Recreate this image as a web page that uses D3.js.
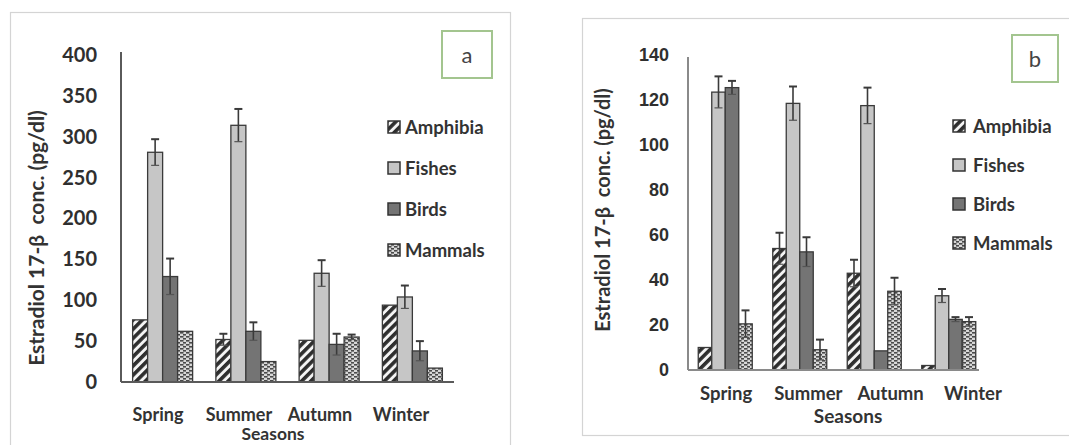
<!DOCTYPE html>
<html>
<head>
<meta charset="utf-8">
<script src="https://cdn.jsdelivr.net/npm/d3@7/dist/d3.min.js"></script>
<style>
  body { margin: 0; background: #fff; }
  svg { display: block; }
</style>
</head>
<body>
<svg id="chart" width="1069" height="445"></svg>
<script>
// Seasons and animal groups
const seasons = ["Spring", "Summer", "Autumn", "Winter"];
const groups = ["Amphibia", "Fishes", "Birds", "Mammals"];

// Panel a: estradiol 17-β (pg/dl)
const amphibiaA = [76, 52, 51, 94];
const fishesA   = [281, 314, 133, 104];
const birdsA    = [129, 62, 46, 38];
const mammalsA  = [62, 25, 55, 17];
const amphibiaErrA = [0, 7, 0, 0];
const fishesErrA   = [16, 20, 16, 14];
const birdsErrA    = [22, 11, 13, 12];
const mammalsErrA  = [0, 0, 3, 0];
const ticksA = [0, 50, 100, 150, 200, 250, 300, 350, 400];

// Panel b: estradiol 17-β (pg/dl)
const amphibiaB = [10, 54, 43, 2];
const fishesB   = [123.5, 118.5, 117.5, 33];
const birdsB    = [125.5, 52.5, 8.5, 22.5];
const mammalsB  = [20.5, 9, 35, 21.5];
const amphibiaErrB = [0, 7, 6, 0];
const fishesErrB   = [7, 7.5, 8, 3];
const birdsErrB    = [3, 6.5, 0, 1];
const mammalsErrB  = [6, 4.5, 6, 2];
const ticksB = [0, 20, 40, 60, 80, 100, 120, 140];

const svg = d3.select("#chart");
const defs = svg.append("defs");

// Fill patterns for the four groups
const hatch = defs.append("pattern")
  .attr("id", "hatch").attr("patternUnits", "userSpaceOnUse")
  .attr("width", 6.5).attr("height", 6.5)
  .attr("patternTransform", "rotate(45)");
hatch.append("rect").attr("width", 6.5).attr("height", 6.5).attr("fill", "#f4f4f4");
hatch.append("rect").attr("width", 3.6).attr("height", 6.5).attr("fill", "#2e2e2e");

const brick = defs.append("pattern")
  .attr("id", "brick").attr("patternUnits", "userSpaceOnUse")
  .attr("width", 6).attr("height", 4);
brick.append("rect").attr("width", 6).attr("height", 4).attr("fill", "#d8d8d8");
brick.append("rect").attr("x", 0).attr("y", 0).attr("width", 3.5).attr("height", 1.6).attr("fill", "#4a4a4a");
brick.append("rect").attr("x", 3).attr("y", 2).attr("width", 3.5).attr("height", 1.6).attr("fill", "#4a4a4a");

const fills = {
  Amphibia: "url(#hatch)",
  Fishes: "#c6c6c6",
  Birds: "#747474",
  Mammals: "url(#brick)"
};

const FONT = "Lato, 'Open Sans', sans-serif";

function drawPanel(cfg) {
  const g = svg.append("g");

  // panel frame
  g.append("rect")
    .attr("x", cfg.frame[0] + 0.5).attr("y", cfg.frame[1] + 0.5)
    .attr("width", cfg.frame[2]).attr("height", cfg.frame[3])
    .attr("fill", "#fff").attr("stroke", "#d4d4d4").attr("stroke-width", 1.2);

  const y = d3.scaleLinear().domain([0, cfg.ticks[cfg.ticks.length - 1]]).range(cfg.yRange);
  const x0 = d3.scaleBand().domain(seasons).range(cfg.xRange);
  const x1 = d3.scaleBand().domain(groups).range([0, cfg.barW * groups.length]);
  const off = (x0.bandwidth() - cfg.barW * groups.length) / 2;
  const xl = d3.scaleBand().domain(seasons).range(cfg.labelRange);

  const rows = [];
  groups.forEach((grp, gi) => {
    seasons.forEach((s, si) => {
      rows.push({ grp, season: s, v: cfg.values[gi][si], e: cfg.errors[gi][si] });
    });
  });

  // bars
  g.selectAll("rect.bar").data(rows).join("rect")
    .attr("class", "bar")
    .attr("x", d => x0(d.season) + off + x1(d.grp))
    .attr("y", d => y(d.v))
    .attr("width", x1.bandwidth())
    .attr("height", d => y(0) - y(d.v))
    .attr("fill", d => fills[d.grp])
    .attr("stroke", "#3a3a3a").attr("stroke-width", 1.3);

  // error bars (±), lower half falls inside the bar
  const eb = g.selectAll("g.err").data(rows.filter(d => d.e > 0)).join("g").attr("class", "err")
    .attr("transform", d => `translate(${x0(d.season) + off + x1(d.grp) + x1.bandwidth() / 2},0)`);
  eb.append("line")
    .attr("y1", d => y(Math.max(0, d.v - d.e))).attr("y2", d => y(d.v + d.e))
    .attr("stroke", "#3a3a3a").attr("stroke-width", 1.6);
  eb.append("line")
    .attr("x1", -4).attr("x2", 4)
    .attr("y1", d => y(d.v + d.e)).attr("y2", d => y(d.v + d.e))
    .attr("stroke", "#3a3a3a").attr("stroke-width", 2);
  eb.append("line")
    .attr("x1", -4).attr("x2", 4)
    .attr("y1", d => y(Math.max(0, d.v - d.e))).attr("y2", d => y(Math.max(0, d.v - d.e)))
    .attr("stroke", "#555").attr("stroke-width", 1.2);

  // axis lines
  g.append("line")
    .attr("x1", cfg.xRange[0]).attr("x2", cfg.xRange[0])
    .attr("y1", y(0)).attr("y2", cfg.axisTop)
    .attr("stroke", cfg.axisColor).attr("stroke-width", 2);
  g.append("line")
    .attr("x1", cfg.xRange[0]).attr("x2", cfg.xAxisEnd)
    .attr("y1", y(0)).attr("y2", y(0))
    .attr("stroke", cfg.axisColor).attr("stroke-width", 2);

  // y axis labels
  const ya = g.append("g")
    .attr("transform", `translate(${cfg.xRange[0]},0)`)
    .call(d3.axisLeft(y).tickValues(cfg.ticks).tickSize(0).tickPadding(cfg.tickPad));
  ya.select(".domain").remove();
  ya.selectAll("text")
    .attr("font-family", cfg.tickFont).attr("font-weight", "bold")
    .attr("font-size", cfg.tickSize).attr("fill", "#2f2f2f");

  // season labels
  const xa = g.append("g")
    .attr("transform", `translate(0,${cfg.seasonY})`)
    .call(d3.axisBottom(xl).tickSize(0).tickPadding(0));
  xa.select(".domain").remove();
  xa.selectAll("text")
    .attr("dy", null).attr("dominant-baseline", "central")
    .attr("font-family", FONT).attr("font-weight", "bold")
    .attr("font-size", cfg.seasonSize).attr("fill", "#333");

  // axis titles
  g.append("text")
    .attr("transform", `translate(${cfg.yTitle[0]},${cfg.yTitle[1]}) rotate(-90)`)
    .attr("text-anchor", "middle").attr("dominant-baseline", "central")
    .attr("font-family", FONT).attr("font-weight", "bold").attr("font-size", cfg.yTitleSize)
    .attr("fill", "#333").attr("xml:space", "preserve")
    .text(cfg.yTitleText);
  g.append("text")
    .attr("x", cfg.xTitle[0]).attr("y", cfg.xTitle[1])
    .attr("text-anchor", "middle").attr("dominant-baseline", "central")
    .attr("font-family", FONT).attr("font-weight", "bold").attr("font-size", cfg.xTitleSize)
    .attr("fill", "#333").text("Seasons");

  // legend
  const lg = g.selectAll("g.leg").data(groups).join("g").attr("class", "leg")
    .attr("transform", (d, i) => `translate(${cfg.legend[0]},${cfg.legend[1] + i * cfg.legendStep})`);
  lg.append("rect")
    .attr("x", 0).attr("y", -6).attr("width", 12).attr("height", 12)
    .attr("fill", d => fills[d]).attr("stroke", "#333").attr("stroke-width", 1.5);
  lg.append("text")
    .attr("x", cfg.legendGap).attr("y", 0).attr("dominant-baseline", "central")
    .attr("font-family", FONT).attr("font-weight", "bold").attr("font-size", cfg.legendSize)
    .attr("fill", "#333").text(d => d);

  // panel letter box
  g.append("rect")
    .attr("x", cfg.tag[0]).attr("y", cfg.tag[1]).attr("width", cfg.tag[2]).attr("height", cfg.tag[3])
    .attr("fill", "#fff").attr("stroke", "#a3c58f").attr("stroke-width", 2);
  g.append("text")
    .attr("x", cfg.tag[0] + cfg.tag[2] / 2).attr("y", cfg.tag[1] + cfg.tag[3] / 2)
    .attr("text-anchor", "middle").attr("dominant-baseline", "central")
    .attr("font-family", FONT).attr("font-size", 22).attr("fill", "#444")
    .text(cfg.tagText);
}

drawPanel({
  frame: [10, 12, 500, 450],
  values: [amphibiaA, fishesA, birdsA, mammalsA],
  errors: [amphibiaErrA, fishesErrA, birdsErrA, mammalsErrA],
  ticks: ticksA,
  yRange: [382, 55],
  xRange: [121, 454],
  xAxisEnd: 454,
  axisTop: 52,
  axisColor: "#5a5a5a",
  barW: 15,
  labelRange: [117.5, 441.5],
  tickPad: 24,
  tickFont: FONT,
  tickSize: 20,
  seasonY: 414,
  seasonSize: 18,
  yTitle: [35, 238],
  yTitleSize: 21,
  yTitleText: "Estradiol 17-β  conc. (pg/dl)",
  xTitle: [273, 433],
  xTitleSize: 17.5,
  legend: [388, 127],
  legendStep: 41,
  legendGap: 17,
  legendSize: 18.5,
  tag: [442, 31, 50, 47],
  tagText: "a"
});

drawPanel({
  frame: [582, 18, 500, 417],
  values: [amphibiaB, fishesB, birdsB, mammalsB],
  errors: [amphibiaErrB, fishesErrB, birdsErrB, mammalsErrB],
  ticks: ticksB,
  yRange: [370, 55],
  xRange: [688, 986],
  xAxisEnd: 979,
  axisTop: 57,
  axisColor: "#8a8a8a",
  barW: 13.5,
  labelRange: [685, 1014],
  tickPad: 19,
  tickFont: "'Liberation Sans', Arial, sans-serif",
  tickSize: 18,
  seasonY: 393,
  seasonSize: 18.5,
  yTitle: [602, 210],
  yTitleSize: 20,
  yTitleText: "Estradiol 17-β  conc. (pg/dl)",
  xTitle: [848, 415],
  xTitleSize: 19,
  legend: [953, 126],
  legendStep: 39,
  legendGap: 20,
  legendSize: 18.5,
  tag: [1012, 35, 46, 47],
  tagText: "b"
});
</script>
</body>
</html>
